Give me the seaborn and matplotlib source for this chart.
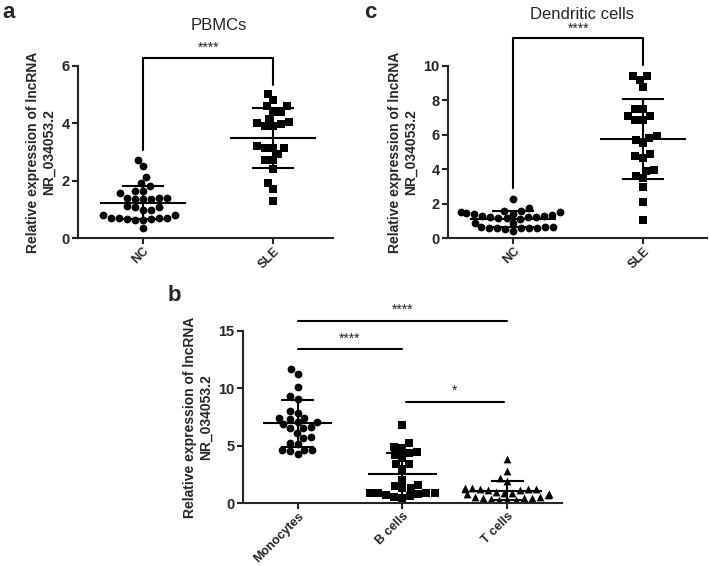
import numpy as np
import pandas as pd
import matplotlib
matplotlib.use("Agg")
import matplotlib.pyplot as plt
import seaborn as sns

# a: PBMCs
pbmc_groups = ["NC", "SLE"]
pbmc_nc = [2.72, 2.52, 2.12, 1.81, 1.91, 1.65, 1.56, 1.65, 1.41, 1.41,
           1.36, 1.36, 1.36, 1.41, 1.12, 1.07, 1.07, 0.98, 0.98, 0.71,
           0.66, 0.80, 0.64, 0.71, 0.71, 0.64, 0.80, 0.66, 0.71, 0.36]
pbmc_sle = [5.02, 4.81, 4.60, 4.60, 4.41, 4.41, 4.06, 4.16, 3.97, 3.92,
            3.92, 4.00, 3.13, 3.13, 3.13, 3.21, 2.93, 2.72, 2.72, 2.40,
            1.91, 1.71, 1.30]

# c: Dendritic cells
dc_groups = ["NC", "SLE"]
dc_nc = [2.27, 1.72, 1.57, 1.57, 1.52, 1.50, 1.45, 1.40, 1.38, 1.35,
         1.30, 1.28, 1.25, 1.22, 1.20, 1.18, 1.15, 1.12, 0.90, 0.88,
         0.65, 0.62, 0.60, 0.58, 0.56, 0.55, 0.58, 0.60, 0.62, 0.40]
dc_sle = [9.42, 9.42, 9.18, 8.76, 7.48, 7.48, 7.09, 7.09, 6.85, 6.85,
          5.92, 5.83, 5.69, 5.53, 4.91, 4.78, 4.68, 3.88, 3.98, 3.61,
          3.46, 2.97, 2.10, 1.03]

# b: cell subsets
cell_groups = ["Monocytes", "B cells", "T cells"]
mono = [11.69, 11.25, 10.15, 9.07, 9.36, 7.88, 8.02, 7.44, 7.44, 7.30,
        7.03, 7.09, 6.66, 6.51, 6.51, 6.89, 6.08, 5.64, 5.73, 5.26,
        5.12, 4.62, 4.53, 4.24, 4.62, 4.62]
bcell = [6.80, 5.20, 4.91, 4.80, 4.48, 4.33, 4.19, 3.90, 3.40, 3.40,
         2.97, 2.00, 1.57, 1.50, 1.28, 1.28, 0.90, 0.84, 0.84, 0.84,
         0.80, 0.55, 0.45, 0.70, 0.60]
tcell = [3.81, 2.79, 2.21, 1.95, 1.30, 1.28, 1.25, 1.22, 1.20, 1.18,
         1.15, 1.10, 0.95, 0.90, 0.85, 0.80, 0.75, 0.70, 0.55, 0.50,
         0.45, 0.42, 0.40, 0.35, 0.30, 0.28, 0.25]

ylab = "Relative expression of lncRNA\nNR_034053.2"

sns.set_style("ticks")
plt.rcParams["font.family"] = ["Liberation Sans", "DejaVu Sans"]

fig = plt.figure(figsize=(7.09, 5.66), dpi=100)
ax_a = fig.add_axes([0.110, 0.5795, 0.3597, 0.3039])
ax_c = fig.add_axes([0.6319, 0.5795, 0.3653, 0.3039])
ax_b = fig.add_axes([0.3427, 0.1113, 0.450, 0.3039])


def dot_panel(ax, groups, values, markers, ylim, yticks, xlim):
    df = pd.DataFrame({
        "group": np.repeat(groups, [len(v) for v in values]),
        "value": np.concatenate(values),
    })
    for g, m in zip(groups, markers):
        sns.swarmplot(data=df[df.group == g], x="group", y="value", order=groups,
                      marker=m, color="black", size=5.6, ax=ax, zorder=2)
    stats = df.groupby("group")["value"].agg(["mean", "std"]).reindex(groups)
    for i, (mu, sd) in enumerate(stats.values):
        ax.hlines(mu, i - 0.33, i + 0.33, color="black", lw=1.5, zorder=3)
        ax.vlines(i, mu - sd, mu + sd, color="black", lw=1.5, zorder=3)
        ax.hlines([mu - sd, mu + sd], i - 0.16, i + 0.16, color="black", lw=1.5, zorder=3)
    ax.set_ylim(*ylim)
    ax.set_yticks(yticks)
    ax.set_xlim(*xlim)
    ax.set_xlabel("")
    ax.set_ylabel(ylab, fontsize=10, fontweight="bold", labelpad=4)
    sns.despine(ax=ax)
    for s in ["left", "bottom"]:
        ax.spines[s].set_linewidth(1.5)
    ax.tick_params(width=1.5, length=4, labelsize=10.5, pad=2)
    ax.tick_params(axis="x", labelsize=9, pad=1)
    plt.setp(ax.get_yticklabels(), fontweight="bold")
    plt.setp(ax.get_xticklabels(), fontweight="bold", rotation=45,
             ha="right", rotation_mode="anchor")


dot_panel(ax_a, pbmc_groups, [pbmc_nc, pbmc_sle], ["o", "s"], (0, 6), [0, 2, 4, 6], (-0.5, 1.46))
dot_panel(ax_c, dc_groups, [dc_nc, dc_sle], ["o", "s"], (0, 10), [0, 2, 4, 6, 8, 10], (-0.5, 1.49))
dot_panel(ax_b, cell_groups, [mono, bcell, tcell], ["o", "s", "^"], (0, 15), [0, 5, 10, 15], (-0.52, 2.52))

# significance brackets
ax_a.plot([0, 0, 1, 1], [3.07, 6.28, 6.28, 5.34], color="black", lw=1.5, clip_on=False)
ax_a.text(0.5, 6.38, "****", ha="center", va="bottom", fontsize=10)
ax_c.plot([0, 0, 1, 1], [2.9, 11.6, 11.6, 10.06], color="black", lw=1.5, clip_on=False)
ax_c.text(0.5, 11.75, "****", ha="center", va="bottom", fontsize=10)

ax_b.plot([0, 2], [15.87, 15.87], color="black", lw=1.5, clip_on=False)
ax_b.text(1, 16.2, "****", ha="center", va="bottom", fontsize=10)
ax_b.plot([0, 1], [13.4, 13.4], color="black", lw=1.5, clip_on=False)
ax_b.text(0.5, 13.75, "****", ha="center", va="bottom", fontsize=10)
ax_b.plot([1.03, 1.97], [8.8, 8.8], color="black", lw=1.5, clip_on=False)
ax_b.text(1.5, 9.15, "*", ha="center", va="bottom", fontsize=10)

# titles
ax_a.text(0.553, 1.238, "PBMCs", transform=ax_a.transAxes, ha="center", va="center", fontsize=12)
ax_c.text(0.517, 1.297, "Dendritic cells", transform=ax_c.transAxes, ha="center", va="center", fontsize=12)

# panel letters
fig.text(0.004, 0.997, "a", fontsize=16, fontweight="bold", va="top")
fig.text(0.514, 0.997, "c", fontsize=16, fontweight="bold", va="top")
fig.text(0.236, 0.497, "b", fontsize=16, fontweight="bold", va="top")

fig.savefig("out.png", dpi=100)
